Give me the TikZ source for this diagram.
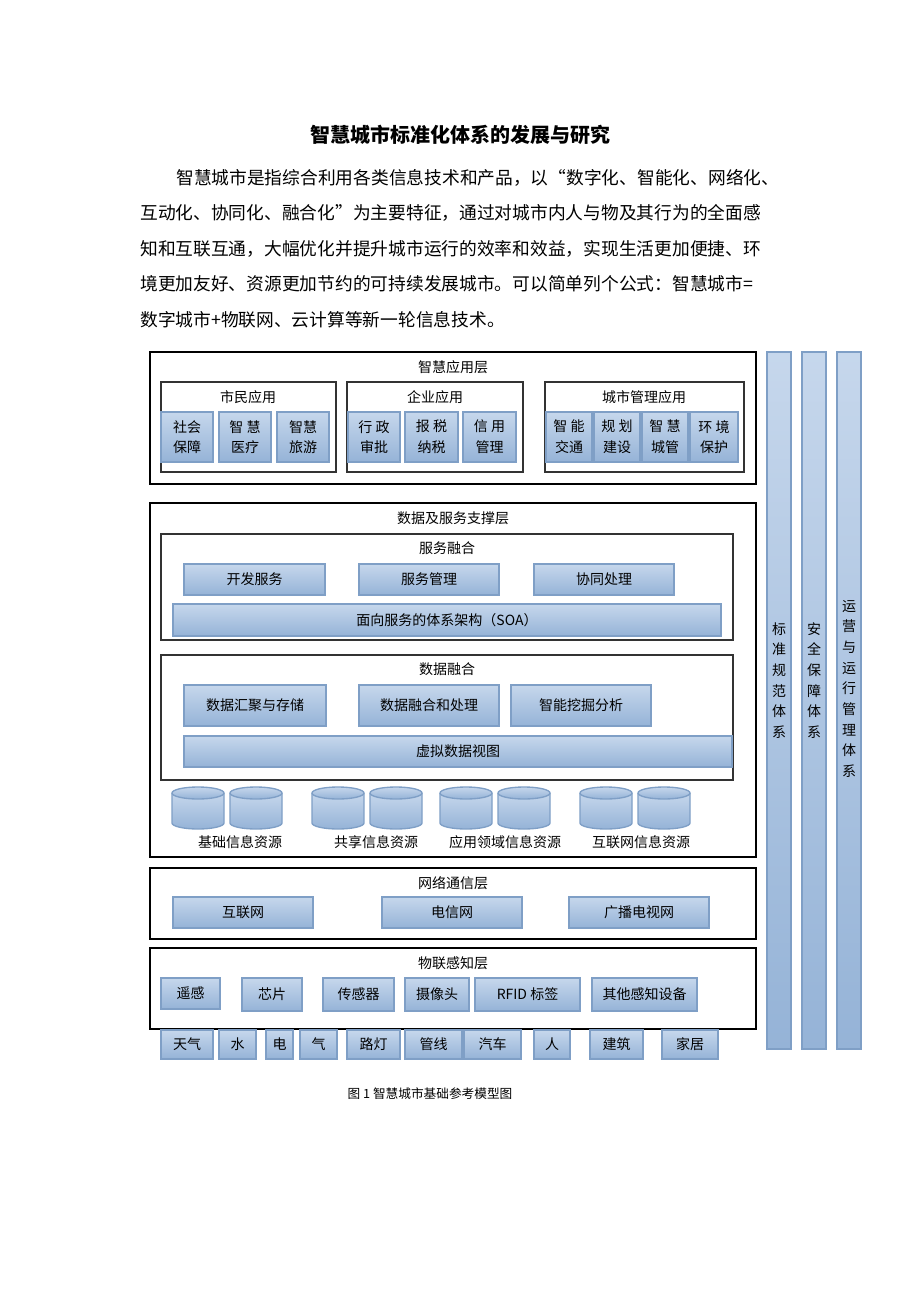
\documentclass[tikz,border=0pt]{standalone}
\usepackage{fontspec}
\setmainfont{Noto Sans CJK SC}
\usetikzlibrary{positioning}
\definecolor{blkline}{HTML}{7F9FC6}
\definecolor{blktop}{HTML}{C6D7EC}
\definecolor{blkbot}{HTML}{95B3D7}
\tikzset{
  layer/.style={draw=black, line width=1.4pt},
  group/.style={draw=black!80, line width=1pt},
  blk/.style={draw=blkline, line width=1pt, top color=blktop, bottom color=blkbot},
  lbl/.style={font=\fontsize{10.5}{15.5}\selectfont, align=center, inner sep=0pt},
  para/.style={font=\fontsize{13.3}{15}\selectfont, anchor=west, inner sep=0pt}
}
% box with text in its middle
\newcommand{\bx}[4]{\draw[blk] (#1) rectangle (#2) node[lbl, midway] (#3) {#4};}
\newcommand{\dbase}[2]{%
  \draw[blk] (#1-26,793) -- (#1-26,823) arc[x radius=26, y radius=6, start angle=180, end angle=0] -- (#1+26,793);
  \draw[blk] (#1,793) ellipse[x radius=26, y radius=6];
  \coordinate (#2) at (#1,810);}
\begin{document}
\begin{tikzpicture}[x=0.75pt, y=-0.75pt]
\fill[white] (0,0) rectangle (920,1302);
% title and text
\node[font=\fontsize{15}{18}\selectfont\bfseries] (title) at (460,135) {智慧城市标准化体系的发展与研究};
\node[para] (p1) at (176,178) {智慧城市是指综合利用各类信息技术和产品，以“数字化、智能化、网络化、};
\node[para] (p2) at (140,213) {互动化、协同化、融合化”为主要特征，通过对城市内人与物及其行为的全面感};
\node[para] (p3) at (140,249) {知和互联互通，大幅优化并提升城市运行的效率和效益，实现生活更加便捷、环};
\node[para] (p4) at (140,284) {境更加友好、资源更加节约的可持续发展城市。可以简单列个公式：智慧城市=};
\node[para] (p5) at (140,320) {数字城市+物联网、云计算等新一轮信息技术。};
% application layer
\draw[layer] (150,352) rectangle (756,484);
\node[lbl] (app) at (453,367) {智慧应用层};
\draw[group] (161,382) rectangle (336,472);
\draw[group] (347,382) rectangle (523,472);
\draw[group] (545,382) rectangle (744,472);
\node[lbl] (citizen) at (248,397) {市民应用};
\node[lbl] (firm) at (435,397) {企业应用};
\node[lbl] (govern) at (644,397) {城市管理应用};
\bx{161,412}{213,462}{a1}{社会\\保障}
\bx{219,412}{271,462}{a2}{智 慧\\医疗}
\bx{277,412}{329,462}{a3}{智慧\\旅游}
\bx{348,412}{400,462}{b1}{行 政\\审批}
\bx{405,412}{458,462}{b2}{报 税\\纳税}
\bx{463,412}{516,462}{b3}{信 用\\管理}
\bx{546,412}{592,462}{c1}{智 能\\交通}
\bx{594,412}{640,462}{c2}{规 划\\建设}
\bx{642,412}{688,462}{c3}{智 慧\\城管}
\bx{690,412}{738,462}{c4}{环 境\\保护}
% data and service layer
\draw[layer] (150,503) rectangle (756,857);
\node[lbl] (data) at (453,518) {数据及服务支撑层};
\draw[group] (161,534) rectangle (733,640);
\node[lbl] (svc) at (447,548) {服务融合};
\bx{184,564}{325,595}{s1}{开发服务}
\bx{359,564}{499,595}{s2}{服务管理}
\bx{534,564}{674,595}{s3}{协同处理}
\bx{173,604}{721,636}{soa}{面向服务的体系架构（SOA）}
\draw[group] (161,655) rectangle (733,780);
\node[lbl] (fuse) at (447,669) {数据融合};
\bx{184,685}{326,726}{d1}{数据汇聚与存储}
\bx{359,685}{499,726}{d2}{数据融合和处理}
\bx{511,685}{651,726}{d3}{智能挖掘分析}
\bx{184,736}{732,767}{view}{虚拟数据视图}
\foreach \cx/\nm in {198/r1,256/r2,338/r3,396/r4,466/r5,524/r6,606/r7,664/r8}
  {\dbase{\cx}{\nm}}
\node[lbl] (res1) at (240,842) {基础信息资源};
\node[lbl] (res2) at (376,842) {共享信息资源};
\node[lbl] (res3) at (505,842) {应用领域信息资源};
\node[lbl] (res4) at (641,842) {互联网信息资源};
% network layer
\draw[layer] (150,868) rectangle (756,939);
\node[lbl] (net) at (453,883) {网络通信层};
\bx{173,897}{313,928}{n1}{互联网}
\bx{382,897}{522,928}{n2}{电信网}
\bx{569,897}{709,928}{n3}{广播电视网}
% sensing layer
\draw[layer] (150,948) rectangle (756,1029);
\node[lbl] (iot) at (453,963) {物联感知层};
\bx{161,978}{220,1009}{t1}{遥感}
\bx{242,978}{302,1011}{t2}{芯片}
\bx{323,978}{394,1011}{t3}{传感器}
\bx{405,978}{469,1011}{t4}{摄像头}
\bx{475,978}{580,1011}{t5}{RFID 标签}
\bx{592,978}{697,1011}{t6}{其他感知设备}
% things
\bx{161,1030}{213,1059}{o1}{天气}
\bx{219,1030}{256,1059}{o2}{水}
\bx{266,1030}{293,1059}{o3}{电}
\bx{300,1030}{337,1059}{o4}{气}
\bx{347,1030}{400,1059}{o5}{路灯}
\bx{405,1030}{462,1059}{o6}{管线}
\bx{464,1030}{521,1059}{o7}{汽车}
\bx{534,1030}{570,1059}{o8}{人}
\bx{590,1030}{643,1059}{o9}{建筑}
\bx{662,1030}{718,1059}{o10}{家居}
% side systems
\draw[blk] (767,352) rectangle (791,1049);
\draw[blk] (802,352) rectangle (826,1049);
\draw[blk] (837,352) rectangle (861,1049);
\node[lbl, anchor=north] (std) at (779,622) {标\\准\\规\\范\\体\\系};
\node[lbl, anchor=north] (sec) at (814,622) {安\\全\\保\\障\\体\\系};
\node[lbl, anchor=north] (ops) at (849,600) {运\\营\\与\\运\\行\\管\\理\\体\\系};
% caption
\node[font=\fontsize{9.5}{11}\selectfont] (cap) at (430,1094) {图 1 智慧城市基础参考模型图};
\end{tikzpicture}
\end{document}
